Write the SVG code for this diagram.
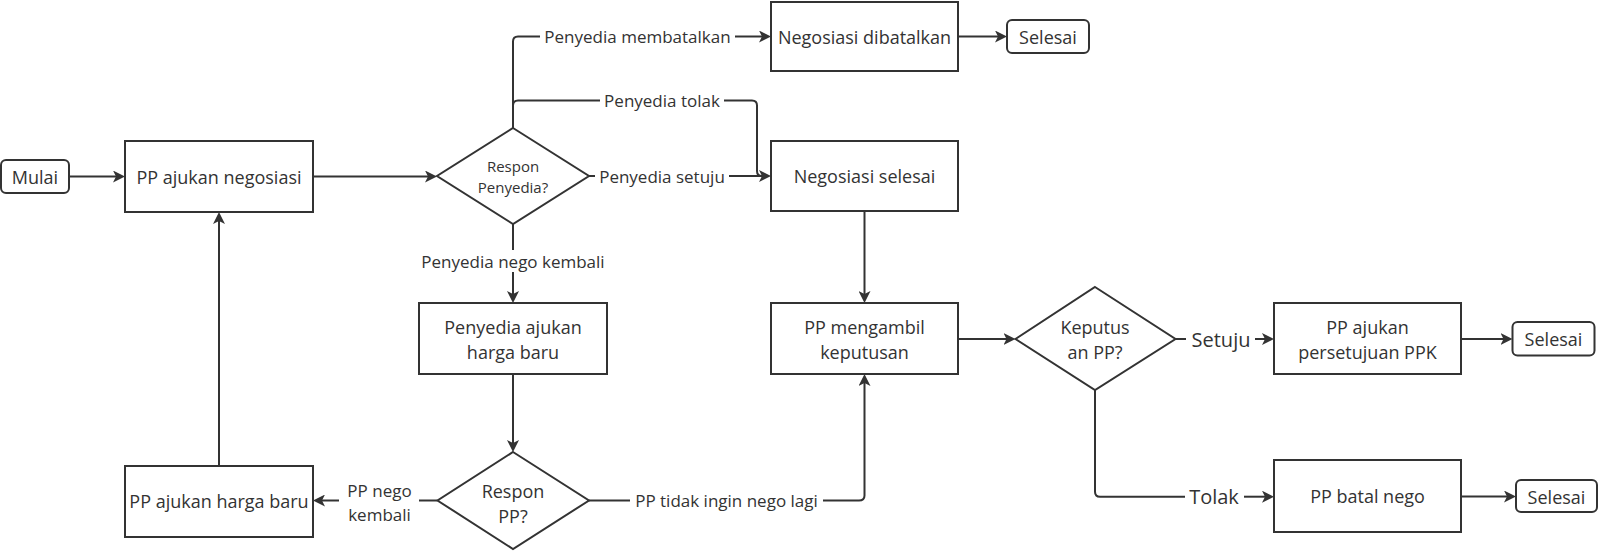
<svg xmlns="http://www.w3.org/2000/svg" width="1600" height="557" viewBox="0 0 1600 557">
<style>
.box{fill:#fff;stroke:#333;stroke-width:2}
.t{font-family:"Open Sans","Liberation Sans",sans-serif;font-size:18px;fill:#333;text-anchor:middle;dominant-baseline:central}
.s{font-size:15px}
.l{font-size:17px}
.b{font-size:20px}
.c{fill:none;stroke:#333;stroke-width:2}
</style>
<defs>
<marker id="ah" viewBox="0 0 12 12" refX="4" refY="6" markerWidth="12" markerHeight="12" markerUnits="userSpaceOnUse" orient="auto">
<path d="M0,0 L12,6 L0,12 L3,6 Z" fill="#333"/>
</marker>
</defs>
<rect width="1600" height="557" fill="#fff"/>
<g id="connectors">
<path class="c" d="M69,176.5 H117" marker-end="url(#ah)"/>
<path class="c" d="M313,176.5 H429" marker-end="url(#ah)"/>
<path class="c" d="M513,128 V41.5 Q513,36.5 518,36.5 H540"/>
<path class="c" d="M735,36.5 H763" marker-end="url(#ah)"/>
<text class="t l" x="637.5" y="36.5">Penyedia membatalkan</text>
<path class="c" d="M513,128 V105.5 Q513,100.5 518,100.5 H600"/>
<path class="c" d="M724,100.5 H752 Q757,100.5 757,105.5 V171 Q757,176 762,176"/>
<text class="t l" x="662" y="100.5">Penyedia tolak</text>
<path class="c" d="M589,176 H595"/>
<path class="c" d="M729,176 H763" marker-end="url(#ah)"/>
<text class="t l" x="662" y="176">Penyedia setuju</text>
<path class="c" d="M958,36.5 H999" marker-end="url(#ah)"/>
<path class="c" d="M513,224 V250"/>
<path class="c" d="M513,272 V295" marker-end="url(#ah)"/>
<text class="t l" x="513" y="261">Penyedia nego kembali</text>
<path class="c" d="M513,374 V444" marker-end="url(#ah)"/>
<path class="c" d="M437.5,500.5 H419"/>
<path class="c" d="M339,500.5 H321" marker-end="url(#ah)"/>
<text class="t l" x="379.5" y="490">PP nego</text>
<text class="t l" x="379.5" y="514">kembali</text>
<path class="c" d="M219,466 V220" marker-end="url(#ah)"/>
<path class="c" d="M589,500.5 H630"/>
<path class="c" d="M823,500.5 H859 Q864.5,500.5 864.5,495.5 V382" marker-end="url(#ah)"/>
<text class="t l" x="726.5" y="500.5">PP tidak ingin nego lagi</text>
<path class="c" d="M864.5,211 V295" marker-end="url(#ah)"/>
<path class="c" d="M958,339 H1007.5" marker-end="url(#ah)"/>
<path class="c" d="M1175.5,339 H1186"/>
<path class="c" d="M1255,339 H1266" marker-end="url(#ah)"/>
<text class="t b" x="1221" y="339">Setuju</text>
<path class="c" d="M1461,339 H1504.5" marker-end="url(#ah)"/>
<path class="c" d="M1095,390 V491.7 Q1095,496.7 1100,496.7 H1185"/>
<path class="c" d="M1244,496.7 H1266" marker-end="url(#ah)"/>
<text class="t b" x="1214" y="496.7">Tolak</text>
<path class="c" d="M1461,496.5 H1508" marker-end="url(#ah)"/>
</g>
<g id="mulai"><rect class="box" x="1" y="160" width="68" height="33" rx="5"/><text class="t" x="35" y="176.5">Mulai</text></g>
<g id="pp-ajukan-negosiasi"><rect class="box" x="125" y="141" width="188" height="71"/><text class="t" x="219" y="176.5">PP ajukan negosiasi</text></g>
<g id="respon-penyedia"><polygon class="box" points="513,128 589,176 513,224 437,176"/><text class="t s" x="513" y="166">Respon</text><text class="t s" x="513" y="186.5">Penyedia?</text></g>
<g id="negosiasi-dibatalkan"><rect class="box" x="771" y="2" width="187" height="69"/><text class="t" x="864.5" y="36.5">Negosiasi dibatalkan</text></g>
<g id="selesai-1"><rect class="box" x="1007" y="20" width="82" height="33" rx="5"/><text class="t" x="1048" y="36.5">Selesai</text></g>
<g id="negosiasi-selesai"><rect class="box" x="771" y="141" width="187" height="70"/><text class="t" x="864.5" y="176">Negosiasi selesai</text></g>
<g id="penyedia-ajukan-harga-baru"><rect class="box" x="419" y="303" width="188" height="71"/><text class="t" x="513" y="327.3">Penyedia ajukan</text><text class="t" x="513" y="352">harga baru</text></g>
<g id="respon-pp"><polygon class="box" points="513,452 589,500.5 513,549 437.5,500.5"/><text class="t" x="513" y="490.5">Respon</text><text class="t" x="513" y="515.5">PP?</text></g>
<g id="pp-ajukan-harga-baru"><rect class="box" x="125" y="466" width="188" height="71"/><text class="t" x="219" y="501">PP ajukan harga baru</text></g>
<g id="pp-mengambil-keputusan"><rect class="box" x="771" y="303" width="187" height="71"/><text class="t" x="864.5" y="327.3">PP mengambil</text><text class="t" x="864.5" y="352">keputusan</text></g>
<g id="keputusan-pp"><polygon class="box" points="1095,287 1175.5,339 1095,390 1015.5,339"/><text class="t" x="1095" y="327.3">Keputus</text><text class="t" x="1095" y="352.3">an PP?</text></g>
<g id="pp-ajukan-persetujuan-ppk"><rect class="box" x="1274" y="303" width="187" height="71"/><text class="t" x="1367.5" y="327.3">PP ajukan</text><text class="t" x="1367.5" y="352">persetujuan PPK</text></g>
<g id="selesai-2"><rect class="box" x="1512.5" y="322" width="82" height="33.5" rx="5"/><text class="t" x="1553.5" y="339">Selesai</text></g>
<g id="pp-batal-nego"><rect class="box" x="1274" y="460" width="187" height="72"/><text class="t" x="1367.5" y="496">PP batal nego</text></g>
<g id="selesai-3"><rect class="box" x="1516" y="480" width="81" height="32" rx="5"/><text class="t" x="1556.5" y="496.5">Selesai</text></g>
</svg>
